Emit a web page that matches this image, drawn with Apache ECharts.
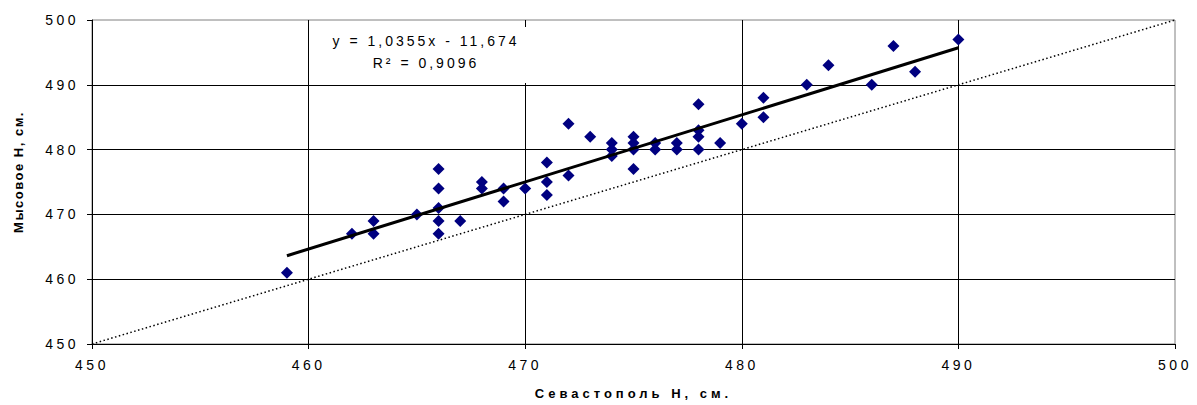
<!DOCTYPE html>
<html>
<head>
<meta charset="utf-8">
<script src="https://cdn.jsdelivr.net/npm/echarts@6/dist/echarts.min.js"></script>
<style>
  html, body { margin: 0; padding: 0; background: #fff; }
  #chart { width: 1197px; height: 405px; }
  #chart text[style*="Liberation"] { letter-spacing: 3.5px; }
  #chart text[style*="Arial"] { letter-spacing: 3px; }
  #chart text[style*="bold"][style*="Arial"] { letter-spacing: 4px; }
  #chart text[style*="bold"][style*="Liberation"] { letter-spacing: 1.5px; }
</style>
</head>
<body>
<div id="chart"></div>
<script>
// Observed pairs (Севастополь H, Мысовое H), cm
const xVals = [459,462,463,463,465,466,466,466,466,466,467,468,468,469,469,470,471,471,471,472,472,473,474,474,474,475,475,475,475,476,476,477,477,478,478,478,478,479,480,481,481,483,484,486,487,488,490];
const yVals = [461,467,469,467,470,477,474,471,469,467,469,475,474,474,472,474,478,475,473,484,476,482,481,480,479,482,481,480,477,481,480,481,480,487,483,482,480,481,484,488,485,490,493,490,496,492,497];

// Linear trendline as printed on the chart
const trendSlope = 1.0355;
const trendIntercept = -11.674;
const trendR2 = '0,9096';
const trendX = [459, 490];

// Reference y = x line
const diagX = [450, 500];
const diagY = [450, 500];

const axisMin = 450, axisMax = 500, axisStep = 10;

const points = xVals.map((x, i) => [x, yVals[i]]);
const trendPts = trendX.map(x => [x, trendSlope * x + trendIntercept]);
const diagPts = diagX.map((x, i) => [x, diagY[i]]);

const chart = echarts.init(document.getElementById('chart'), null, { renderer: 'svg' });

const tickLabel = { color: '#000', fontSize: 14, fontFamily: 'Liberation Sans' };

chart.setOption({
  animation: false,
  backgroundColor: '#fff',
  grid: { left: 92, right: 22, top: 20, bottom: 59, show: true, borderColor: '#808080', borderWidth: 1, backgroundColor: '#fff' },
  xAxis: {
    type: 'value', min: axisMin, max: axisMax, interval: axisStep,
    name: 'Севастополь Н, см.', nameLocation: 'middle', nameGap: 43,
    nameTextStyle: { color: '#000', fontSize: 13, fontWeight: 'bold', fontFamily: 'Arial' },
    axisLine: { show: true, onZero: false, lineStyle: { color: '#000', width: 1 } },
    axisTick: { show: true, length: 5, lineStyle: { color: '#000' } },
    axisLabel: Object.assign({ margin: 14 }, tickLabel),
    splitLine: { show: true, showMaxLine: false, lineStyle: { color: '#000', width: 1 } }
  },
  yAxis: {
    type: 'value', min: axisMin, max: axisMax, interval: axisStep,
    axisLine: { show: true, onZero: false, lineStyle: { color: '#000', width: 1 } },
    axisTick: { show: true, length: 5, lineStyle: { color: '#000' } },
    axisLabel: Object.assign({ margin: 13 }, tickLabel),
    splitLine: { show: true, showMaxLine: false, lineStyle: { color: '#000', width: 1 } }
  },
  graphic: [
    { type: 'rect', z: 50, shape: { x: 322, y: 27, width: 212, height: 56 }, style: { fill: '#fff' } },
    { type: 'text', z: 51, x: 426, y: 41, style: { text: 'y = 1,0355x - 11,674', font: '14px Arial', fill: '#000', textAlign: 'center', textVerticalAlign: 'middle', verticalAlign: 'middle' } },
    { type: 'text', z: 51, x: 426, y: 63, style: { text: 'R² = ' + trendR2, font: '14px Arial', fill: '#000', textAlign: 'center', textVerticalAlign: 'middle', verticalAlign: 'middle' } },
    { type: 'text', z: 51, x: 18, y: 172, rotation: Math.PI / 2, style: { text: 'Мысовое Н, см.', font: 'bold 13px Liberation Sans', fill: '#000', textAlign: 'center', textVerticalAlign: 'middle', verticalAlign: 'middle' } }
  ],
  series: [
    {
      type: 'line', data: diagPts, symbol: 'none', silent: true, z: 3,
      lineStyle: { color: '#000', width: 1.5, type: [1.5, 2.5] }
    },
    {
      type: 'scatter', data: points, symbol: 'diamond', symbolSize: [12, 12], z: 4,
      itemStyle: { color: '#000080', opacity: 1 }
    },
    {
      type: 'line', data: trendPts, symbol: 'none', silent: true, z: 5,
      lineStyle: { color: '#000', width: 3 }
    }
  ]
});
</script>
</body>
</html>
